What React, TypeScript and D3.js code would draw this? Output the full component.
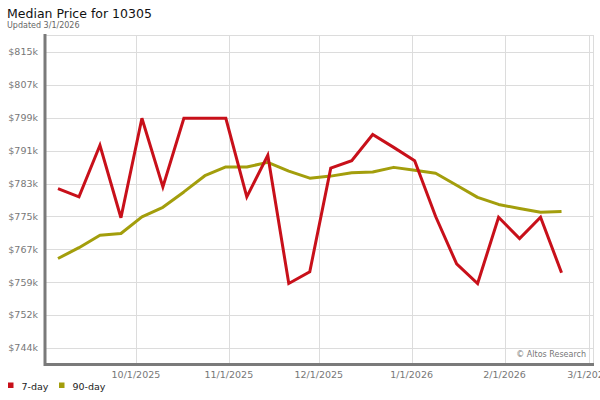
import React from "react";
import * as d3 from "d3";

const dates = [
  "2025-09-05", "2025-09-12", "2025-09-19", "2025-09-26", "2025-10-03",
  "2025-10-10", "2025-10-17", "2025-10-24", "2025-10-31", "2025-11-07",
  "2025-11-14", "2025-11-21", "2025-11-28", "2025-12-05", "2025-12-12",
  "2025-12-19", "2025-12-26", "2026-01-02", "2026-01-09", "2026-01-16",
  "2026-01-23", "2026-01-30", "2026-02-06", "2026-02-13", "2026-02-20",
];

// values in $k
const day7 = [
  781.9, 779.9, 792.3, 774.9, 798.8, 782.3, 798.8, 798.8, 798.8, 779.9,
  789.9, 759.1, 761.9, 786.8, 788.6, 794.9, 791.8, 788.6, 775.2, 763.8,
  759.1, 775.0, 769.9, 775.0, 761.7,
];

const day90 = [
  765.1, 767.7, 770.7, 771.1, 775.1, 777.4, 781.1, 785.0, 787.1, 787.1,
  788.2, 786.1, 784.4, 784.9, 785.7, 785.9, 787.0, 786.3, 785.6, 782.7,
  779.8, 778.1, 777.1, 776.2, 776.4,
];

const yTicks = [743.6, 751.5, 759.4, 767.3, 775.2, 783.1, 791.0, 798.9, 806.8, 814.7];
const yTickLabels = ["$744k", "$752k", "$759k", "$767k", "$775k", "$783k", "$791k", "$799k", "$807k", "$815k"];

const xTicks = ["2025-10-01", "2025-11-01", "2025-12-01", "2026-01-01", "2026-02-01", "2026-03-01"];
const xTickLabels = ["10/1/2025", "11/1/2025", "12/1/2025", "1/1/2026", "2/1/2026", "3/1/2026"];

const seriesNames = ["7-day", "90-day"];
const seriesColors = ["#c8101a", "#a39e0c"];

const W = 600;
const H = 400;
const left = 46;
const right = 593;
const top = 35;
const bottom = 363;

const parse = (s: string) => new Date(s + "T00:00:00");

export default function App() {
  const x = d3
    .scaleTime()
    .domain([parse("2025-09-01"), new Date(2026, 2, 2, 12)])
    .range([left, right]);
  const y = d3.scaleLinear().domain([740, 818.8]).range([bottom, top]);

  const line = d3
    .line<number>()
    .x((_, i) => x(parse(dates[i])))
    .y((v) => y(v));

  const font = "DejaVu Sans, sans-serif";
  const grid = "#dcdcdc";

  return (
    <svg
      width={W}
      height={H}
      style={{ position: "absolute", left: 0, top: 0, background: "#fff" }}
    >
      <text x={7} y={18} fontFamily={font} fontSize={12.5} fill="#111">
        Median Price for 10305
      </text>
      <text x={7} y={27.5} fontFamily={font} fontSize={8} fill="#666">
        Updated 3/1/2026
      </text>

      {/* grid */}
      <line x1={left} x2={right} y1={top + 0.5} y2={top + 0.5} stroke={grid} />
      <line x1={right + 0.5} x2={right + 0.5} y1={top} y2={bottom} stroke={grid} />
      {yTicks.map((t, i) => (
        <line
          key={"yg" + i}
          x1={left}
          x2={right}
          y1={Math.round(y(t)) + 0.5}
          y2={Math.round(y(t)) + 0.5}
          stroke={grid}
        />
      ))}
      {xTicks.map((t, i) => (
        <line
          key={"xg" + i}
          x1={Math.round(x(parse(t))) + 0.5}
          x2={Math.round(x(parse(t))) + 0.5}
          y1={top}
          y2={bottom}
          stroke={grid}
        />
      ))}

      {/* y labels */}
      {yTicks.map((t, i) => (
        <text
          key={"yl" + i}
          x={38}
          y={y(t)}
          dy="0.35em"
          textAnchor="end"
          fontFamily={font}
          fontSize={9.5}
          fill="#777"
        >
          {yTickLabels[i]}
        </text>
      ))}

      {/* x labels */}
      {xTicks.map((t, i) => (
        <text
          key={"xl" + i}
          x={x(parse(t))}
          y={378}
          textAnchor="middle"
          fontFamily={font}
          fontSize={9.5}
          fill="#777"
        >
          {xTickLabels[i]}
        </text>
      ))}

      {/* watermark */}
      <text x={586} y={357} textAnchor="end" fontFamily={font} fontSize={8} fill="#777">
        © Altos Research
      </text>

      {/* series */}
      <path d={line(day90) || ""} fill="none" stroke={seriesColors[1]} strokeWidth={3} strokeLinejoin="round" />
      <path d={line(day7) || ""} fill="none" stroke={seriesColors[0]} strokeWidth={3} strokeLinejoin="miter" />

      {/* axes */}
      <line x1={45} x2={45} y1={top - 1} y2={bottom + 3} stroke="#7a7a7a" strokeWidth={3} />
      <line x1={44} x2={594} y1={bottom + 1.5} y2={bottom + 1.5} stroke="#7a7a7a" strokeWidth={3} />

      {/* legend */}
      {seriesNames.map((n, i) => {
        const lx = [8, 59][i];
        return (
          <g key={"lg" + i}>
            <rect x={lx} y={382.5} width={5.5} height={5.5} fill={seriesColors[i]} />
            <text x={lx + 13.5} y={390} fontFamily={font} fontSize={9.5} fill="#222">
              {n}
            </text>
          </g>
        );
      })}
    </svg>
  );
}
